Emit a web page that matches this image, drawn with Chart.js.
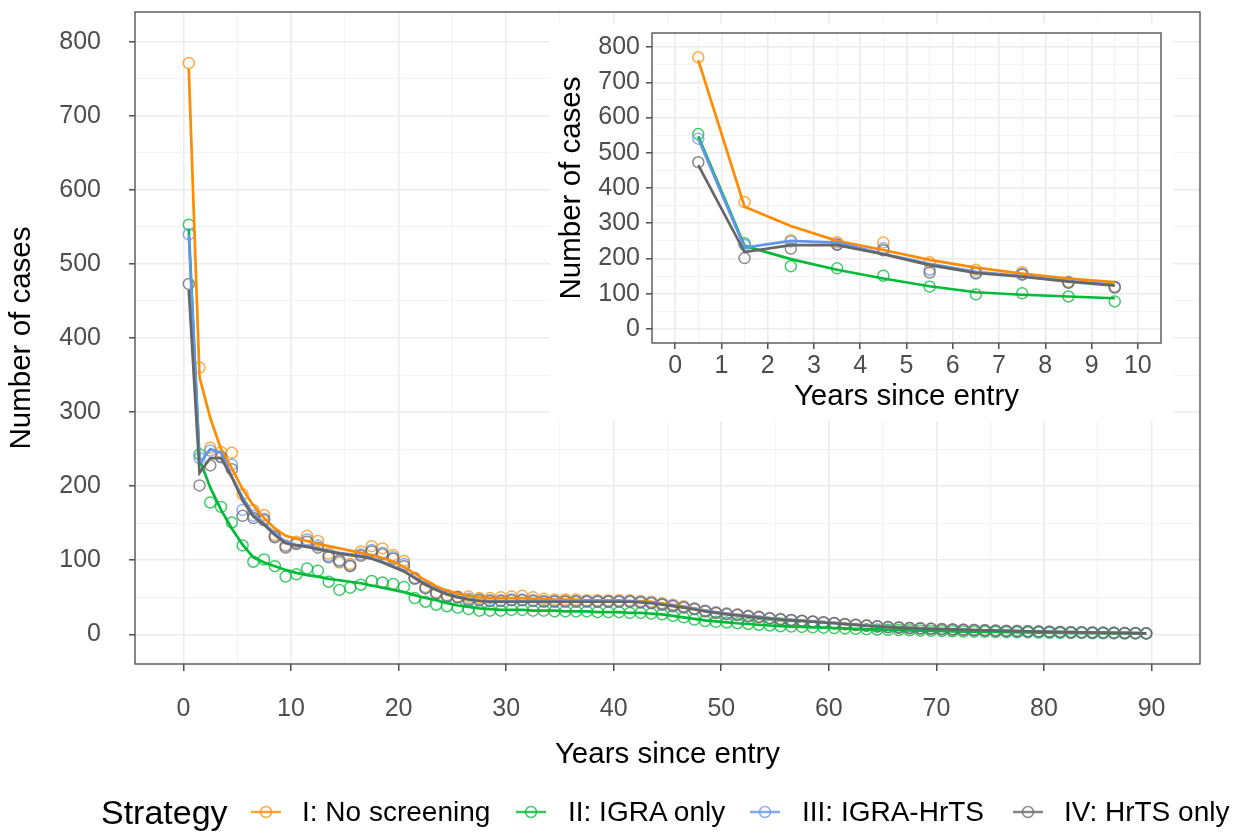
<!DOCTYPE html>
<html>
<head>
<meta charset="utf-8">
<script src="https://cdn.jsdelivr.net/npm/chart.js@4.4.1/dist/chart.umd.min.js"></script>
<style>
  html, body { margin: 0; padding: 0; background: #fff; }
  #wrap { position: relative; width: 1234px; height: 832px; overflow: hidden; font-family: "Liberation Sans", Arial, sans-serif; }
  #mainChart { position: absolute; left: 0; top: 0; width: 1234px; height: 832px; }
  #insetChart { position: absolute; left: 550px; top: 23px; width: 623px; height: 398px; background: #fff; }
  .lg { position: absolute; white-space: nowrap; color: #000; }
  .key { position: absolute; }
</style>
</head>
<body>
<div id="wrap">
  <canvas id="mainChart" width="1234" height="832"></canvas>
  <canvas id="insetChart" width="623" height="398"></canvas>
  <div id="legend"></div>
</div>
<script>
// years since entry (mid-year)
const years = [0.5, 1.5, 2.5, 3.5, 4.5, 5.5, 6.5, 7.5, 8.5, 9.5,
  10.5, 11.5, 12.5, 13.5, 14.5, 15.5, 16.5, 17.5, 18.5, 19.5,
  20.5, 21.5, 22.5, 23.5, 24.5, 25.5, 26.5, 27.5, 28.5, 29.5,
  30.5, 31.5, 32.5, 33.5, 34.5, 35.5, 36.5, 37.5, 38.5, 39.5,
  40.5, 41.5, 42.5, 43.5, 44.5, 45.5, 46.5, 47.5, 48.5, 49.5,
  50.5, 51.5, 52.5, 53.5, 54.5, 55.5, 56.5, 57.5, 58.5, 59.5,
  60.5, 61.5, 62.5, 63.5, 64.5, 65.5, 66.5, 67.5, 68.5, 69.5,
  70.5, 71.5, 72.5, 73.5, 74.5, 75.5, 76.5, 77.5, 78.5, 79.5,
  80.5, 81.5, 82.5, 83.5, 84.5, 85.5, 86.5, 87.5, 88.5, 89.5];

// observed cases (points)
const ptsNoScreen = [771, 360, 252, 246, 245, 189, 168, 161, 134, 120,
  125, 133, 126, 109, 97, 95, 112, 119, 116, 107,
  99, 75, 64, 57, 53, 51, 51, 49, 49, 50,
  51, 52, 50, 48, 47, 47, 47, 46, 46, 46,
  46, 46, 45, 44, 42, 40, 38, 35, 32, 29,
  28, 27, 25, 24, 22, 21, 19.5, 18.5, 17.5, 16.5,
  15.5, 14, 13, 12, 11, 10, 9.2, 8.6, 8, 7.5,
  7, 6.6, 6.2, 5.8, 5.4, 5, 4.7, 4.4, 4.1, 3.8,
  3.5, 3.2, 2.9, 2.7, 2.5, 2.3, 2.1, 1.9, 1.7, 1.5];
const ptsIgra = [553, 243, 178, 172, 151, 120, 98, 101, 92, 78,
  81, 89, 86, 71, 60, 63, 67, 72, 70, 68,
  64, 49, 44, 40, 38, 36, 34, 32, 32, 32,
  33, 33, 32, 32, 31, 31, 31, 31, 30, 30,
  30, 29, 29, 28, 27, 25, 23, 20, 18, 17,
  16, 15, 14, 13, 12, 11, 10.5, 10, 9.5, 9,
  8.5, 8, 7.5, 7, 6.6, 6.2, 5.8, 5.4, 5, 4.7,
  4.4, 4.1, 3.8, 3.6, 3.4, 3.2, 3, 2.8, 2.6, 2.4,
  2.2, 2, 1.8, 1.7, 1.5, 1.4, 1.3, 1.2, 1.1, 1];
const ptsIgraHrts = [540, 238, 248, 240, 229, 168, 160, 156, 132, 119,
  123, 128, 120, 106, 98, 93, 108, 114, 110, 104,
  95, 75, 63, 56, 52, 50, 48, 47, 46, 46,
  47, 47, 46, 45, 45, 45, 45, 45, 45, 45,
  45, 45, 44, 43, 41, 39, 37, 35, 32, 30,
  28, 26.5, 25, 23.5, 22, 20.5, 19.5, 18.5, 17.5, 16.5,
  15.5, 14, 13, 12, 11, 10, 9.3, 8.7, 8.1, 7.6,
  7.1, 6.7, 6.3, 5.9, 5.5, 5.1, 4.8, 4.5, 4.2, 3.9,
  3.6, 3.3, 3, 2.8, 2.6, 2.4, 2.2, 2, 1.8, 1.5];
const ptsHrts = [473, 201, 228, 239, 223, 160, 157, 154, 131, 117,
  122, 125, 117, 104, 100, 92, 106, 112, 108, 102,
  92, 76, 62, 55, 51, 50, 46, 46, 45, 45,
  46, 46, 45, 44, 44, 44, 44, 44, 44, 44,
  44, 44, 43, 42, 40, 38, 36, 34, 31, 29,
  27, 26, 24, 23, 21.5, 20, 19, 18, 17, 16,
  15, 13.5, 12.5, 11.5, 10.5, 9.5, 9, 8.5, 8, 7.5,
  7, 6.6, 6.2, 5.8, 5.4, 5, 4.7, 4.4, 4.1, 3.8,
  3.5, 3.2, 2.9, 2.7, 2.5, 2.3, 2.1, 1.9, 1.6, 1.3];

// fitted cases (lines)
const lineNoScreen = [763, 347, 292, 250, 224, 196, 174, 157, 143, 133,
  129, 126, 122, 119, 116, 113, 110, 107, 103, 98,
  91, 82, 73, 65, 59, 55, 52, 50, 49, 49,
  49, 49, 48, 48, 47, 47, 47, 46, 46, 46,
  46, 45, 45, 44, 42, 40, 38, 35, 32, 29.5,
  28, 26.5, 25, 23.5, 22, 21, 19.5, 18.5, 17.5, 16.5,
  15.5, 14.2, 13.1, 12.1, 11.1, 10.2, 9.4, 8.7, 8.1, 7.5,
  7, 6.6, 6.2, 5.8, 5.4, 5, 4.7, 4.4, 4.1, 3.8,
  3.5, 3.2, 2.9, 2.7, 2.5, 2.3, 2.1, 1.9, 1.7, 1.5];
const lineIgra = [547, 236, 198, 168, 143, 121, 104, 97, 92, 87,
  83, 80, 78, 75, 73, 71, 69, 66, 63, 60,
  57, 53, 49, 46, 42, 39, 37, 35, 34, 33,
  33, 33, 32, 32, 32, 31, 31, 31, 30, 30,
  30, 29, 29, 28, 27, 25, 23, 21, 19, 17.5,
  16.2, 15, 14, 13, 12, 11.2, 10.5, 10, 9.5, 9,
  8.5, 8, 7.5, 7, 6.6, 6.2, 5.8, 5.4, 5, 4.7,
  4.4, 4.1, 3.8, 3.6, 3.4, 3.2, 3, 2.8, 2.6, 2.4,
  2.2, 2, 1.8, 1.7, 1.5, 1.4, 1.3, 1.2, 1.1, 1];
const lineIgraHrts = [540, 231, 250, 245, 213, 185, 162, 150, 136, 125,
  121, 119, 116, 113, 110, 108, 106, 103, 98, 92,
  86, 77, 68, 61, 55, 51, 48, 46, 45, 45,
  45, 45, 45, 45, 45, 45, 45, 45, 45, 45,
  45, 45, 44, 43, 41, 39, 37, 34.5, 32, 30,
  28, 26.5, 25, 23.5, 22, 20.5, 19.5, 18.5, 17.5, 16.5,
  15.5, 14, 13, 12, 11, 10, 9.3, 8.7, 8.1, 7.6,
  7.1, 6.7, 6.3, 5.9, 5.5, 5.1, 4.8, 4.5, 4.2, 3.9,
  3.6, 3.3, 3, 2.8, 2.6, 2.4, 2.2, 2, 1.8, 1.5];
const lineHrts = [465, 218, 238, 238, 212, 181, 159, 148, 134, 123,
  120, 118, 115, 112, 109, 107, 105, 102, 97, 91,
  85, 76, 67, 60, 54, 50, 47, 45, 44, 44,
  44, 44, 44, 44, 44, 44, 44, 44, 44, 44,
  44, 44, 43, 42, 40, 38, 36, 33.5, 31, 29,
  27, 25.5, 24, 22.5, 21.2, 20, 19, 18, 17, 16,
  15, 13.7, 12.6, 11.6, 10.6, 9.7, 9, 8.4, 7.9, 7.4,
  7, 6.6, 6.2, 5.8, 5.4, 5, 4.7, 4.4, 4.1, 3.8,
  3.5, 3.2, 2.9, 2.7, 2.5, 2.3, 2.1, 1.9, 1.6, 1.3];

const seriesNames = ['I: No screening', 'II: IGRA only', 'III: IGRA-HrTS', 'IV: HrTS only'];
const seriesColors = ['255,140,0', '0,186,56', '100,149,237', '102,102,102'];

// axis breaks
const mainXMajor = [0, 10, 20, 30, 40, 50, 60, 70, 80, 90];
const mainXMinor = [5, 15, 25, 35, 45, 55, 65, 75, 85];
const yMajor = [0, 100, 200, 300, 400, 500, 600, 700, 800];
const yMinor = [50, 150, 250, 350, 450, 550, 650, 750];
const insetXMajor = [0, 1, 2, 3, 4, 5, 6, 7, 8, 9, 10];
const insetXMinor = [0.5, 1.5, 2.5, 3.5, 4.5, 5.5, 6.5, 7.5, 8.5, 9.5];

Chart.defaults.font.family = '"Liberation Sans", Arial, sans-serif';

function pairs(n, ys) {
  return ys.slice(0, n).map((y, i) => ({ x: years[i], y: y }));
}

function buildDatasets(n, lw, pr) {
  const pts = [ptsNoScreen, ptsIgra, ptsIgraHrts, ptsHrts];
  const fits = [lineNoScreen, lineIgra, lineIgraHrts, lineHrts];
  const sets = [];
  fits.forEach((f, i) => {
    sets.push({
      label: seriesNames[i],
      data: pairs(n, f),
      showLine: true,
      borderColor: 'rgb(' + seriesColors[i] + ')',
      borderWidth: lw,
      pointRadius: 0,
      order: 3 - i
    });
  });
  pts.forEach((p, i) => {
    sets.push({
      label: seriesNames[i] + ' obs',
      data: pairs(n, p),
      showLine: false,
      pointStyle: 'circle',
      pointRadius: pr,
      pointBorderWidth: 1.5,
      pointBorderColor: 'rgba(' + seriesColors[i] + ',0.75)',
      pointBackgroundColor: 'rgba(0,0,0,0)',
      order: 7 - i
    });
  });
  return sets;
}

function axis(o) {
  const all = o.major.concat(o.minor).sort((a, b) => a - b);
  const isMajor = (c) => c.tick && o.major.includes(c.tick.value);
  return {
    type: 'linear',
    min: o.min,
    max: o.max,
    afterBuildTicks: (s) => { s.ticks = all.map((v) => ({ value: v })); },
    afterFit: (s) => {
      if (o.horizontal) s.height = o.size; else s.width = o.size;
      // tick labels sit well inside the panel, no extra room needed
      s.paddingTop = 0; s.paddingBottom = 0; s.paddingLeft = 0; s.paddingRight = 0;
    },
    ticks: {
      autoSkip: false,
      maxRotation: 0,
      padding: o.pad,
      color: '#4D4D4D',
      font: { size: o.tickSize },
      callback: (v) => (o.major.includes(v) ? String(v) : '')
    },
    grid: {
      color: (c) => (isMajor(c) ? '#EBEBEB' : '#F2F2F2'),
      lineWidth: (c) => (isMajor(c) ? 1.6 : 0.9),
      tickLength: o.tl,
      tickColor: (c) => (isMajor(c) ? '#333333' : 'rgba(0,0,0,0)'),
      tickWidth: 1.3
    },
    border: { display: false },
    title: {
      display: true,
      text: o.title,
      color: '#000',
      font: { size: 29.5 },
      padding: o.titlePad
    }
  };
}

const panelBorder = {
  id: 'panelBorder',
  afterDatasetsDraw(chart) {
    const a = chart.chartArea;
    const ctx = chart.ctx;
    ctx.save();
    ctx.strokeStyle = '#555555';
    ctx.lineWidth = 1.4;
    ctx.strokeRect(a.left, a.top, a.right - a.left, a.bottom - a.top);
    ctx.restore();
  }
};

// nudge the layout padding so the panel lands where it should
function pinTop(chart, top) {
  const p = chart.options.layout.padding;
  const diff = chart.chartArea.top - top;
  if (Math.abs(diff) > 0.5) {
    p.top = Math.max(0, p.top - diff);
    chart.update();
  }
}

const mainChart = new Chart(document.getElementById('mainChart'), {
  type: 'scatter',
  data: { datasets: buildDatasets(years.length, 2.7, 5.5) },
  plugins: [panelBorder],
  options: {
    responsive: false,
    animation: false,
    events: [],
    layout: { padding: { left: 0, top: 12, right: 34, bottom: 42 } },
    plugins: { legend: { display: false }, tooltip: { enabled: false } },
    scales: {
      x: axis({ horizontal: true, min: -4.5, max: 94.5, major: mainXMajor, minor: mainXMinor,
        size: 126, tl: 7, pad: 23, tickSize: 25, title: 'Years since entry', titlePad: { top: 0, bottom: 17 } }),
      y: axis({ horizontal: false, min: -40, max: 840, major: yMajor, minor: yMinor,
        size: 135, tl: 6, pad: 28, tickSize: 25, title: 'Number of cases', titlePad: { top: 4, bottom: 0 } })
    }
  }
});
pinTop(mainChart, 12);

const insetChart = new Chart(document.getElementById('insetChart'), {
  type: 'scatter',
  data: { datasets: buildDatasets(10, 2.7, 5.5) },
  plugins: [panelBorder],
  options: {
    responsive: false,
    animation: false,
    events: [],
    layout: { padding: { left: 0, top: 10, right: 12, bottom: 0 } },
    plugins: { legend: { display: false }, tooltip: { enabled: false } },
    scales: {
      x: axis({ horizontal: true, min: -0.5, max: 10.5, major: insetXMajor, minor: insetXMinor,
        size: 78, tl: 6, pad: 2, tickSize: 25, title: 'Years since entry', titlePad: { top: 0, bottom: 6 } }),
      y: axis({ horizontal: false, min: -40, max: 840, major: yMajor, minor: yMinor,
        size: 102, tl: 6, pad: 6, tickSize: 25, title: 'Number of cases', titlePad: { top: 4, bottom: 0 } })
    }
  }
});
pinTop(insetChart, 10);

// legend below the plot
const legendKeyX = [266, 531, 765, 1028];
const legendTextX = [302, 568, 802, 1064];
const legendMidY = 812;
const legendRoot = document.getElementById('legend');

function addText(txt, left, size) {
  const d = document.createElement('div');
  d.className = 'lg';
  d.textContent = txt;
  d.style.left = left + 'px';
  d.style.fontSize = size + 'px';
  d.style.lineHeight = size + 'px';
  d.style.top = (legendMidY - size / 2) + 'px';
  legendRoot.appendChild(d);
}

addText('Strategy', 101, 34);
seriesNames.forEach((name, i) => {
  const c = seriesColors[i];
  const k = document.createElement('div');
  k.className = 'key';
  k.style.left = (legendKeyX[i] - 16) + 'px';
  k.style.top = (legendMidY - 9) + 'px';
  k.innerHTML = '<svg width="32" height="18">' +
    '<circle cx="16" cy="9" r="5.5" fill="none" stroke="rgba(' + c + ',0.75)" stroke-width="1.5"/>' +
    '<line x1="1" y1="9" x2="31" y2="9" stroke="rgba(' + c + ',0.8)" stroke-width="2.5"/></svg>';
  legendRoot.appendChild(k);
  addText(name, legendTextX[i], 28);
});
</script>
</body>
</html>
